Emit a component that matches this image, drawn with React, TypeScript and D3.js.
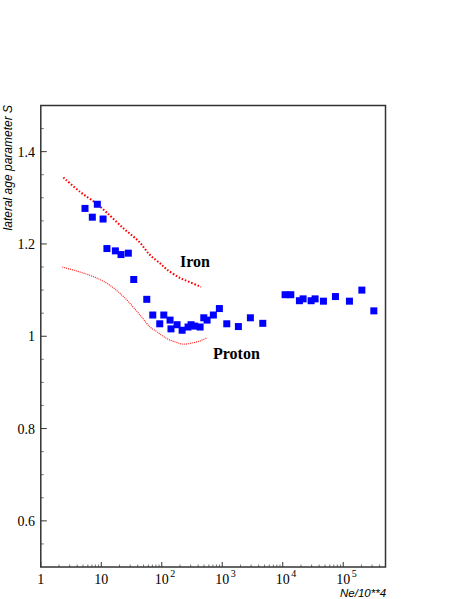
import React, { useEffect, useRef } from 'react';
import * as d3 from 'd3';

// measured points (Ne/10**4 vs lateral age S)
const dataNe = [5.38, 8.6, 7.11, 10.7, 12.4, 17.1, 21.2, 28.0, 34.4, 56.5, 71.0, 92.6, 108, 137, 142, 179, 217, 272, 305, 351, 430, 495, 561, 713, 896, 1188, 1848, 2918, 4677, 10940, 13590, 18870, 21720, 29450, 34300, 47080, 74360, 126700, 203200, 320600];
const dataS = [1.277, 1.286, 1.258, 1.254, 1.19, 1.185, 1.177, 1.18, 1.123, 1.08, 1.046, 1.027, 1.046, 1.035, 1.016, 1.025, 1.013, 1.02, 1.025, 1.022, 1.02, 1.04, 1.035, 1.046, 1.06, 1.027, 1.021, 1.04, 1.028, 1.09, 1.09, 1.077, 1.081, 1.077, 1.081, 1.076, 1.086, 1.076, 1.1, 1.055];

// simulation curves
const ironNe = [2.36, 4.45, 8.4, 12.3, 23.2, 42.1, 64, 93.7, 121, 201, 228, 447];
const ironS = [1.344, 1.313, 1.287, 1.268, 1.234, 1.205, 1.176, 1.158, 1.145, 1.126, 1.123, 1.107];
const protonNe = [2.27, 6.51, 12.3, 23.2, 43.7, 64, 82.6, 121, 156, 228, 333, 430, 568];
const protonS = [1.15, 1.132, 1.115, 1.086, 1.046, 1.02, 1.01, 0.995, 0.989, 0.983, 0.986, 0.99, 0.997];

const yTicks = [0.6, 0.8, 1, 1.2, 1.4];
const xTicks = [1, 10, 100, 1000, 10000, 100000];

const serif = 'Liberation Serif, Times New Roman, serif';
const sans = 'Liberation Sans, Arial, sans-serif';

export default function App() {
    const svgRef = useRef<SVGSVGElement>(null);

    useEffect(() => {
        const svg = d3.select(svgRef.current);
        svg.selectAll('*').remove();

        const left = 40.8, right = 385.5, top = 105.5, bottom = 567;
        const x = d3.scaleLog().domain([1, 5e5]).range([left, right]);
        const y = d3.scaleLinear().domain([0.5, 1.5]).range([bottom, top]);

        // y ticks (inward)
        const yMinor = d3.range(0.55, 1.5, 0.05).filter(v => Math.abs(v * 5 - Math.round(v * 5)) > 0.01);
        svg.append('g').selectAll('line').data(yMinor).enter().append('line')
            .attr('x1', left).attr('x2', left + 3)
            .attr('y1', d => y(d)).attr('y2', d => y(d))
            .attr('stroke', '#555').attr('stroke-width', 0.8);
        svg.append('g').selectAll('line').data(yTicks).enter().append('line')
            .attr('x1', left).attr('x2', left + 6)
            .attr('y1', d => y(d)).attr('y2', d => y(d))
            .attr('stroke', '#333').attr('stroke-width', 1);
        svg.append('g').selectAll('text').data(yTicks).enter().append('text')
            .attr('x', 35).attr('y', d => y(d) + 5)
            .attr('text-anchor', 'end')
            .attr('font-family', serif)
            .attr('font-size', 14)
            .text(d => d3.format('~g')(d));

        // x ticks
        const xMinor: number[] = [];
        for (let e = 0; e < 6; e++) for (let m = 2; m < 10; m++) {
            const v = m * Math.pow(10, e);
            if (v < 5e5) xMinor.push(v);
        }
        svg.append('g').selectAll('line').data(xMinor).enter().append('line')
            .attr('x1', d => x(d)).attr('x2', d => x(d))
            .attr('y1', bottom).attr('y2', bottom - 2.5)
            .attr('stroke', '#555').attr('stroke-width', 0.8);
        svg.append('g').selectAll('line').data(xTicks).enter().append('line')
            .attr('x1', d => x(d)).attr('x2', d => x(d))
            .attr('y1', bottom).attr('y2', bottom - 5)
            .attr('stroke', '#333').attr('stroke-width', 1);
        const xl = svg.append('g').selectAll('text').data(xTicks).enter().append('text')
            .attr('y', 584)
            .attr('font-family', serif)
            .attr('font-size', 14);
        xl.each(function (d) {
            const t = d3.select(this);
            const e = Math.round(Math.log10(d));
            if (e < 2) {
                t.attr('x', x(d)).attr('text-anchor', 'middle').text(String(d));
                return;
            }
            t.attr('x', x(d) - 7).attr('text-anchor', 'start');
            t.append('tspan').text('10');
            t.append('tspan').attr('font-size', 10).attr('dy', -7).attr('dx', 1.5).text(String(e));
        });

        // frame
        svg.append('rect')
            .attr('x', left).attr('y', top)
            .attr('width', right - left).attr('height', bottom - top)
            .attr('fill', 'none').attr('stroke', '#333').attr('stroke-width', 1.5);

        const line = d3.line<[number, number]>().curve(d3.curveCatmullRom.alpha(0.5))
            .x(d => x(d[0])).y(d => y(d[1]));

        svg.append('path')
            .datum(ironNe.map((v, i) => [v, ironS[i]] as [number, number]))
            .attr('d', line).attr('fill', 'none')
            .attr('stroke', '#ff0000').attr('stroke-width', 2)
            .attr('stroke-dasharray', '1.6,1.8');

        svg.append('path')
            .datum(protonNe.map((v, i) => [v, protonS[i]] as [number, number]))
            .attr('d', line).attr('fill', 'none')
            .attr('stroke', '#ff2020').attr('stroke-width', 1.2)
            .attr('stroke-dasharray', '1,1');

        // data points
        svg.append('g').selectAll('rect').data(dataNe).enter().append('rect')
            .attr('x', (d) => x(d) - 3.5)
            .attr('y', (d, i) => y(dataS[i]) - 3.5)
            .attr('width', 7).attr('height', 7)
            .attr('fill', '#0000ff');

        // labels
        svg.append('text').attr('x', 180).attr('y', 267)
            .attr('font-family', serif)
            .attr('font-weight', 'bold').attr('font-size', 16).text('Iron');
        svg.append('text').attr('x', 213).attr('y', 359)
            .attr('font-family', serif)
            .attr('font-weight', 'bold').attr('font-size', 16).text('Proton');

        svg.append('text')
            .attr('transform', 'translate(12,105) rotate(-90)')
            .attr('text-anchor', 'end')
            .attr('font-family', sans)
            .attr('font-style', 'italic').attr('font-size', 12)
            .text('lateral age parameter S');
        svg.append('text').attr('x', 340).attr('y', 597)
            .attr('font-family', sans)
            .attr('font-style', 'italic').attr('font-size', 11.5)
            .text('Ne/10**4');
    }, []);

    return (
        <svg width={463} height={599} ref={svgRef}
            style={{ position: 'absolute', left: 0, top: 0, background: '#fff' }}></svg>
    );
}
